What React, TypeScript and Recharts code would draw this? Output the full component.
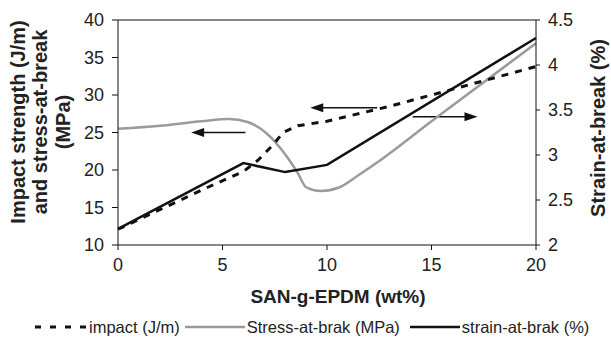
import { ComposedChart, Label, Legend, Line, ReferenceLine, XAxis, YAxis } from "recharts";

// impact strength (J/m), left axis
const impactX = [0, 4.3, 6, 6.7, 7.4, 7.9, 8.6, 10, 13, 15.4, 20];
const impactY = [12.1, 17.7, 19.8, 21.3, 23.3, 25, 25.9, 26.5, 28.5, 30.3, 33.8];

// stress-at-break (MPa), left axis
const stressX = [0, 2, 4, 5.3, 6.2, 7.1, 8.1, 8.6, 9, 9.7, 10.6, 11.5, 12.5, 15, 20];
const stressY = [25.5, 25.9, 26.5, 26.8, 26.4, 24.9, 21.7, 19.6, 17.7, 17.2, 17.7, 19.3, 21.2, 26.5, 36.9];

// strain-at-break (%), right axis
const strainX = [0, 6, 8, 10, 20];
const strainY = [2.18, 2.91, 2.81, 2.89, 4.3];

// annotation arrows (tail x -> head x, at left-axis y)
const arrowFrom = [6.1, 12.4, 14.1];
const arrowTo = [3.5, 9.2, 17.2];
const arrowAt = [25, 28.3, 27.1];

const xTicks = [0, 5, 10, 15, 20];
const leftTicks = [10, 15, 20, 25, 30, 35, 40];
const rightTicks = [2, 2.5, 3, 3.5, 4, 4.5];

const impact = impactX.map((x, i) => ({ x, v: impactY[i] }));
const stress = stressX.map((x, i) => ({ x, v: stressY[i] }));
const strain = strainX.map((x, i) => ({ x, v: strainY[i] }));

const FONT = "Liberation Sans, Arial, sans-serif";
const TICK = { fill: "#222", fontSize: 18, fontFamily: FONT };

const Arrow = (props: any) => {
  const { x1, y1, x2, y2 } = props;
  const dir = x2 > x1 ? 1 : -1;
  return (
    <g>
      <line x1={x1} y1={y1} x2={x2 - dir * 10} y2={y2} stroke="#111" strokeWidth={1.4} />
      <polygon
        points={`${x2},${y2} ${x2 - dir * 13},${y2 - 4.5} ${x2 - dir * 13},${y2 + 4.5}`}
        fill="#111"
      />
    </g>
  );
};

const LegendContent = () => (
  <div
    style={{
      display: "flex",
      alignItems: "center",
      paddingLeft: 35,
      height: 20,
      fontFamily: FONT,
      fontSize: 16.5,
      color: "#222",
      whiteSpace: "nowrap",
    }}
  >
    <svg width={54} height={6}>
      <line x1={0} y1={3} x2={54} y2={3} stroke="#111" strokeWidth={3} strokeDasharray="6 9" />
    </svg>
    <span>impact (J/m)</span>
    <svg width={60} height={6} style={{ marginLeft: 5 }}>
      <line x1={0} y1={3} x2={60} y2={3} stroke="#999" strokeWidth={2.5} />
    </svg>
    <span style={{ marginLeft: 2 }}>Stress-at-brak (MPa)</span>
    <svg width={50} height={6} style={{ marginLeft: 10 }}>
      <line x1={0} y1={3} x2={50} y2={3} stroke="#111" strokeWidth={2.5} />
    </svg>
    <span style={{ marginLeft: 2 }}>strain-at-brak (%)</span>
  </div>
);

export default function App() {
  return (
    <div style={{ position: "absolute", left: 0, top: 0, background: "#fff" }}>
      <ComposedChart width={611} height={338} margin={{ top: 20, right: 0, left: 0, bottom: 0 }}>
        <XAxis
          dataKey="x"
          type="number"
          domain={[0, 20]}
          ticks={xTicks}
          allowDuplicatedCategory={false}
          height={73}
          tickSize={5}
          tickMargin={8}
          stroke="#111"
          tick={TICK}
        >
          <Label
            content={({ viewBox }: any) => (
              <text
                x={338}
                y={viewBox.y + 58}
                textAnchor="middle"
                fontFamily={FONT}
                fontSize={19}
                fontWeight="bold"
                fill="#222"
              >
                SAN-g-EPDM (wt%)
              </text>
            )}
          />
        </XAxis>
        <YAxis
          yAxisId="left"
          type="number"
          domain={[10, 40]}
          ticks={leftTicks}
          width={118}
          tickSize={6}
          tickMargin={8}
          stroke="#111"
          tick={TICK}
        >
          <Label
            content={() => (
              <g fontFamily={FONT} fontSize={20} fontWeight="bold" fill="#222" textAnchor="middle">
                <text x={24.5} y={122} transform="rotate(-90 24.5 122)">Impact strength (J/m)</text>
                <text x={47} y={122} transform="rotate(-90 47 122)">and stress-at-break</text>
                <text x={69.5} y={122} transform="rotate(-90 69.5 122)">(MPa)</text>
              </g>
            )}
          />
        </YAxis>
        <YAxis
          yAxisId="right"
          orientation="right"
          type="number"
          domain={[2, 4.5]}
          ticks={rightTicks}
          width={75}
          tickSize={4}
          tickMargin={8}
          stroke="#111"
          tick={TICK}
        >
          <Label
            content={() => (
              <text
                x={605}
                y={128}
                transform="rotate(-90 605 128)"
                textAnchor="middle"
                fontFamily={FONT}
                fontSize={20}
                fontWeight="bold"
                fill="#222"
              >
                Strain-at-break (%)
              </text>
            )}
          />
        </YAxis>
        <ReferenceLine yAxisId="left" y={40} stroke="#111" strokeWidth={1} />
        {arrowAt.map((y, i) => (
          <ReferenceLine
            key={i}
            yAxisId="left"
            segment={[
              { x: arrowFrom[i], y },
              { x: arrowTo[i], y },
            ]}
            shape={<Arrow />}
          />
        ))}
        <Line
          yAxisId="left"
          data={stress}
          dataKey="v"
          type="monotone"
          stroke="#9b9b9b"
          strokeWidth={2.5}
          dot={false}
          isAnimationActive={false}
        />
        <Line
          yAxisId="left"
          data={impact}
          dataKey="v"
          type="linear"
          stroke="#111"
          strokeWidth={3}
          strokeDasharray="7 7"
          dot={false}
          isAnimationActive={false}
        />
        <Line
          yAxisId="right"
          data={strain}
          dataKey="v"
          type="linear"
          stroke="#111"
          strokeWidth={2.5}
          dot={false}
          isAnimationActive={false}
        />
        <Legend
          verticalAlign="bottom"
          height={20}
          wrapperStyle={{ top: 317, left: 0, width: 611 }}
          content={<LegendContent />}
        />
      </ComposedChart>
    </div>
  );
}
